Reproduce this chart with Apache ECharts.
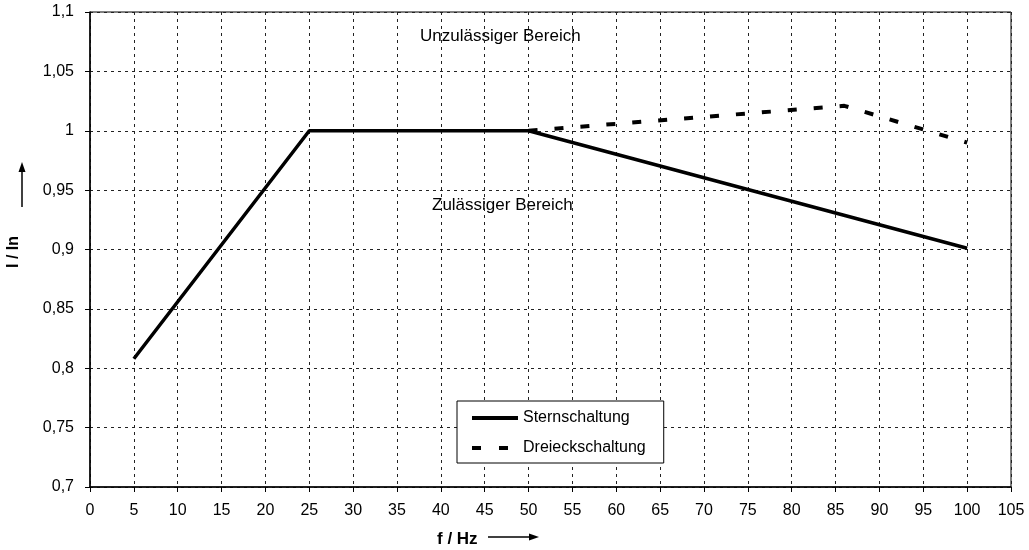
<!DOCTYPE html>
<html>
<head>
<meta charset="utf-8">
<script src="https://cdn.jsdelivr.net/npm/echarts@6/dist/echarts.min.js"></script>
<style>
html,body{margin:0;padding:0;background:#fff;}
#chart{width:1029px;height:550px;}
</style>
</head>
<body>
<div id="chart"></div>
<script>
// Data
const sternX = [5, 25, 50, 100];
const sternY = [0.808, 1.0, 1.0, 0.901];
const dreieckX = [50, 86, 100];
const dreieckY = [1.0, 1.021, 0.99];
const seriesNames = ['Sternschaltung', 'Dreieckschaltung'];
const xTicks = {min: 0, max: 105, interval: 5};
const yTicks = {min: 0.7, max: 1.1, interval: 0.05};

const FONT = '"Liberation Sans", Arial, sans-serif';
const chart = echarts.init(document.getElementById('chart'), null, {renderer: 'canvas'});

function zip(xs, ys) { return xs.map((x, i) => [x, ys[i]]); }

const legendIcons = [
  'path://M0,0h46v4h-46z',
  'path://M0,0h9v4h-9z M27,0h9v4h-9z M45.9,0h0.1v0.1h-0.1z'
];

const option = {
  animation: false,
  backgroundColor: '#fff',
  textStyle: {fontFamily: FONT, color: '#000'},
  grid: {left: 90, right: 18, top: 12, bottom: 63, show: true, borderColor: '#000', borderWidth: 1},
  xAxis: {
    type: 'value', min: xTicks.min, max: xTicks.max, interval: xTicks.interval,
    axisLine: {show: true, lineStyle: {color: '#000', width: 1.5}},
    axisTick: {show: true, length: 5, lineStyle: {color: '#000'}},
    axisLabel: {color: '#000', fontSize: 16, fontFamily: FONT, margin: 16},
    splitLine: {show: true, lineStyle: {color: '#222', type: [3, 4], width: 1}}
  },
  yAxis: {
    type: 'value', min: yTicks.min, max: yTicks.max, interval: yTicks.interval,
    axisLine: {show: true, lineStyle: {color: '#000', width: 1.5}},
    axisTick: {show: true, length: 5, lineStyle: {color: '#000'}},
    axisLabel: {color: '#000', fontSize: 16, fontFamily: FONT, margin: 16,
      formatter: v => String(+v.toFixed(2)).replace('.', ',')},
    splitLine: {show: true, lineStyle: {color: '#222', type: [3, 4], width: 1}}
  },
  legend: {
    orient: 'vertical', left: 457, top: 401,
    backgroundColor: '#fff', borderColor: '#000', borderWidth: 1,
    padding: [7, 18, 5, 15], itemGap: 10, itemWidth: 46, itemHeight: 4,
    textStyle: {fontSize: 16, fontFamily: FONT, color: '#000', lineHeight: 20},
    itemStyle: {color: '#000', borderWidth: 0},
    lineStyle: {width: 0},
    data: seriesNames.map((n, i) => ({name: n, icon: legendIcons[i]}))
  },
  series: [
    {
      name: seriesNames[0], type: 'line', data: zip(sternX, sternY),
      symbol: 'none', lineStyle: {color: '#000', width: 3.5},
      itemStyle: {color: '#000'}
    },
    {
      name: seriesNames[1], type: 'line', data: zip(dreieckX, dreieckY),
      symbol: 'none', lineStyle: {color: '#000', width: 4, type: [9, 17]},
      itemStyle: {color: '#000'}
    }
  ],
  graphic: [
    {type: 'text', left: 420, top: 28, style: {text: 'Unzulässiger Bereich', font: '17px ' + FONT, fill: '#000'}},
    {type: 'text', left: 432, top: 197, style: {text: 'Zulässiger Bereich', font: '17px ' + FONT, fill: '#000'}},
    {type: 'text', x: 14, y: 268, rotation: Math.PI / 2, style: {text: 'I / In', font: 'bold 16px ' + FONT, fill: '#000', align: 'left', verticalAlign: 'middle'}},
    {type: 'line', shape: {x1: 22, y1: 207, x2: 22, y2: 170}, style: {stroke: '#000', lineWidth: 1.5}},
    {type: 'polygon', shape: {points: [[22, 162], [18.5, 172], [25.5, 172]]}, style: {fill: '#000'}},
    {type: 'text', left: 437, top: 531, style: {text: 'f / Hz', font: 'bold 17px ' + FONT, fill: '#000'}},
    {type: 'line', shape: {x1: 488, y1: 537, x2: 530, y2: 537}, style: {stroke: '#000', lineWidth: 1.5}},
    {type: 'polygon', shape: {points: [[539, 537], [529, 533.5], [529, 540.5]]}, style: {fill: '#000'}}
  ]
};
chart.setOption(option);
</script>
</body>
</html>
